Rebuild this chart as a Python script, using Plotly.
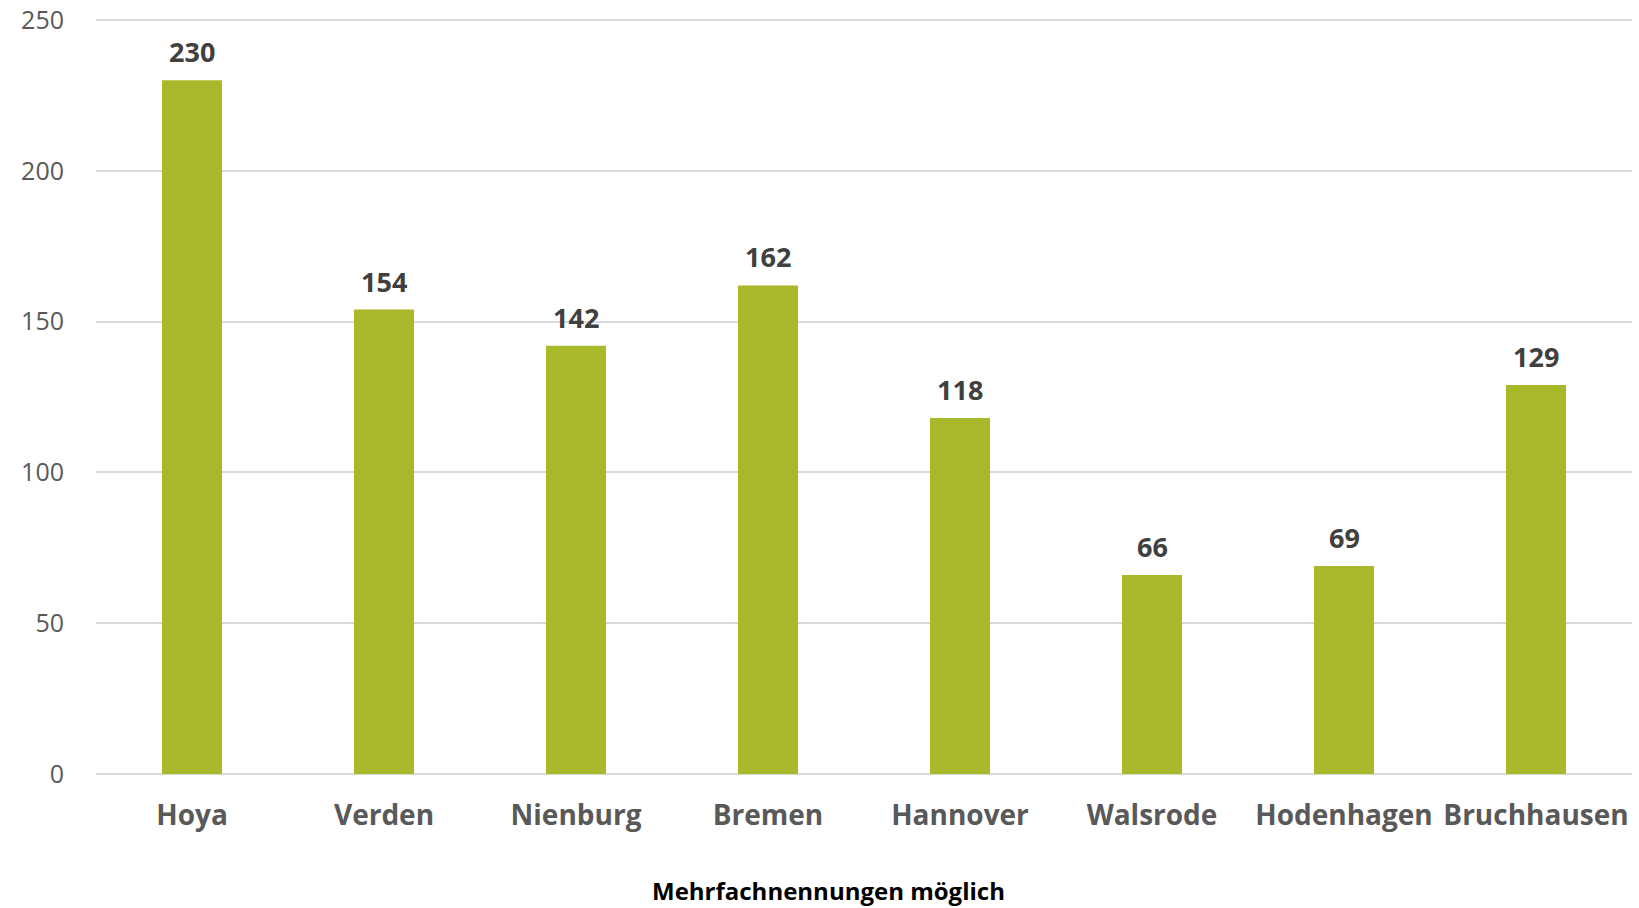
import plotly.graph_objects as go

categories = ["Hoya", "Verden", "Nienburg", "Bremen", "Hannover", "Walsrode", "Hodenhagen", "Bruchhausen"]
values = [230, 154, 142, 162, 118, 66, 69, 129]
y_ticks = [0, 50, 100, 150, 200, 250]

fig = go.Figure(go.Bar(
    x=categories, y=values,
    marker=dict(color="#A8B82A", line=dict(width=0)),
    cliponaxis=False,
))

for c, v in zip(categories, values):
    fig.add_annotation(
        x=c, y=v, text=str(v), showarrow=False,
        yanchor="bottom", yshift=8,
        font=dict(family="Open Sans", size=27, color="#404040", weight="bold"),
    )

fig.add_annotation(
    xref="paper", yref="paper", x=0.4766, y=-0.1534,
    text="Mehrfachnennungen möglich", showarrow=False,
    xanchor="center", yanchor="middle",
    font=dict(family="Open Sans", size=24, color="#000000", weight="bold"),
)

fig.update_layout(
    width=1639, height=908,
    margin=dict(l=96, r=7, t=17, b=134, autoexpand=False),
    paper_bgcolor="white", plot_bgcolor="white",
    bargap=0.6875,
    showlegend=False,
    font=dict(family="Open Sans"),
)
fig.update_xaxes(
    showgrid=False, zeroline=False, showline=False, automargin=False,
    tickfont=dict(size=28, color="#595959", weight="bold"),
    ticks="", ticklabelstandoff=22,
)
fig.update_yaxes(
    range=[0, 251], tickvals=y_ticks, automargin=False,
    showgrid=True, gridcolor="#D9D9D9", gridwidth=1.5,
    zeroline=True, zerolinecolor="#D9D9D9", zerolinewidth=2,
    tickfont=dict(size=25, color="#595959"),
    ticks="", ticklabelstandoff=31, ticklabeloverflow="allow",
)

fig.write_html("out.html", config={"displayModeBar": False},
               post_script="document.body.style.margin='0';")
